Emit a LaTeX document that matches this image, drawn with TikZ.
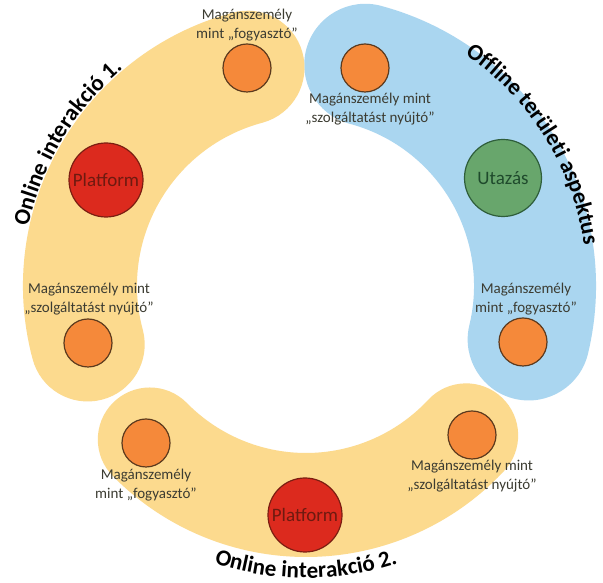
\documentclass[tikz,border=0pt]{standalone}
\usepackage{fontspec}
\setmainfont{Carlito}
\usetikzlibrary{decorations.text}
\definecolor{bandyel}{RGB}{252,218,142}
\definecolor{bandblue}{RGB}{170,214,240}
\definecolor{orfill}{RGB}{245,137,58}
\definecolor{orline}{RGB}{92,58,30}
\definecolor{redfill}{RGB}{220,42,30}
\definecolor{redline}{RGB}{123,30,18}
\definecolor{redtext}{RGB}{110,26,16}
\definecolor{grfill}{RGB}{104,166,108}
\definecolor{grline}{RGB}{47,94,59}
\definecolor{grtext}{RGB}{31,74,44}
\definecolor{lbltext}{RGB}{60,60,50}
\tikzset{
  orangedot/.style={circle, draw=orline, line width=1.2pt, fill=orfill, minimum size=48pt, inner sep=0pt},
  platformdot/.style={circle, draw=redline, line width=1.2pt, fill=redfill, minimum size=74pt, inner sep=0pt, text=redtext, font=\fontsize{19}{19}\selectfont},
  traveldot/.style={circle, draw=grline, line width=1.2pt, fill=grfill, minimum size=77pt, inner sep=0pt, text=grtext, font=\fontsize{19}{19}\selectfont},
  lbl/.style={align=center, text=lbltext, font=\fontsize{15}{19}\selectfont, inner sep=0pt},
  band/.style={line cap=round}
}
\newcommand{\titlefnt}{\bfseries\fontsize{23}{23}\selectfont}
\begin{document}
\begin{tikzpicture}[x=1pt,y=1pt]
\useasboundingbox (0,0) rectangle (603,583);
\fill[white] (0,0) rectangle (603,583);
\begin{scope}[shift={(306,297)}]
  % bands
  \draw[band, bandblue, line width=122pt] (75:229) arc[start angle=75, end angle=-13.5, radius=229];
  \draw[band, bandyel, line width=114pt] (105:226) arc[start angle=105, end angle=195, radius=226];
  \draw[band, bandyel, line width=104pt] (224.5:219) arc[start angle=224.5, end angle=317, radius=219];
  % titles along arcs
  \path[decorate, decoration={text along path, text align=center,
     text={|\titlefnt|Online interakció 1.}}]
     (180:284) arc[start angle=180, end angle=118, radius=284];
  \path[decorate, decoration={text along path, text align=center,
     text={|\titlefnt|Offline területi aspektus}}]
     (63:281) arc[start angle=63, end angle=1, radius=281];
  \path[decorate, decoration={text along path, text align=center,
     text={|\titlefnt|Online interakció 2.}}]
     (247:292) arc[start angle=247, end angle=293, radius=292];
\end{scope}
% circles
\node[platformdot] (p1) at (106,403) {Platform};
\node[platformdot] (p2) at (305,68) {Platform};
\node[traveldot] (u) at (503,405) {Utazás};
\node[orangedot] (o1) at (247,515) {};
\node[orangedot] (o2) at (365,515) {};
\node[orangedot] (o3) at (523,241) {};
\node[orangedot] (o4) at (88,240) {};
\node[orangedot] (o5) at (146,140) {};
\node[orangedot] (o6) at (472,148) {};
% labels
\node[lbl] (l1) at (247,558) {Magánszemély\\mint „fogyasztó”};
\node[lbl] (l2) at (370,474) {Magánszemély mint\\„szolgáltatást nyújtó”};
\node[lbl] (l3) at (89,284) {Magánszemély mint\\„szolgáltatást nyújtó”};
\node[lbl] (l4) at (526,284) {Magánszemély\\mint „fogyasztó”};
\node[lbl] (l5) at (146,98) {Magánszemély\\mint „fogyasztó”};
\node[lbl] (l6) at (472,107) {Magánszemély mint\\„szolgáltatást nyújtó”};
\end{tikzpicture}
\end{document}
